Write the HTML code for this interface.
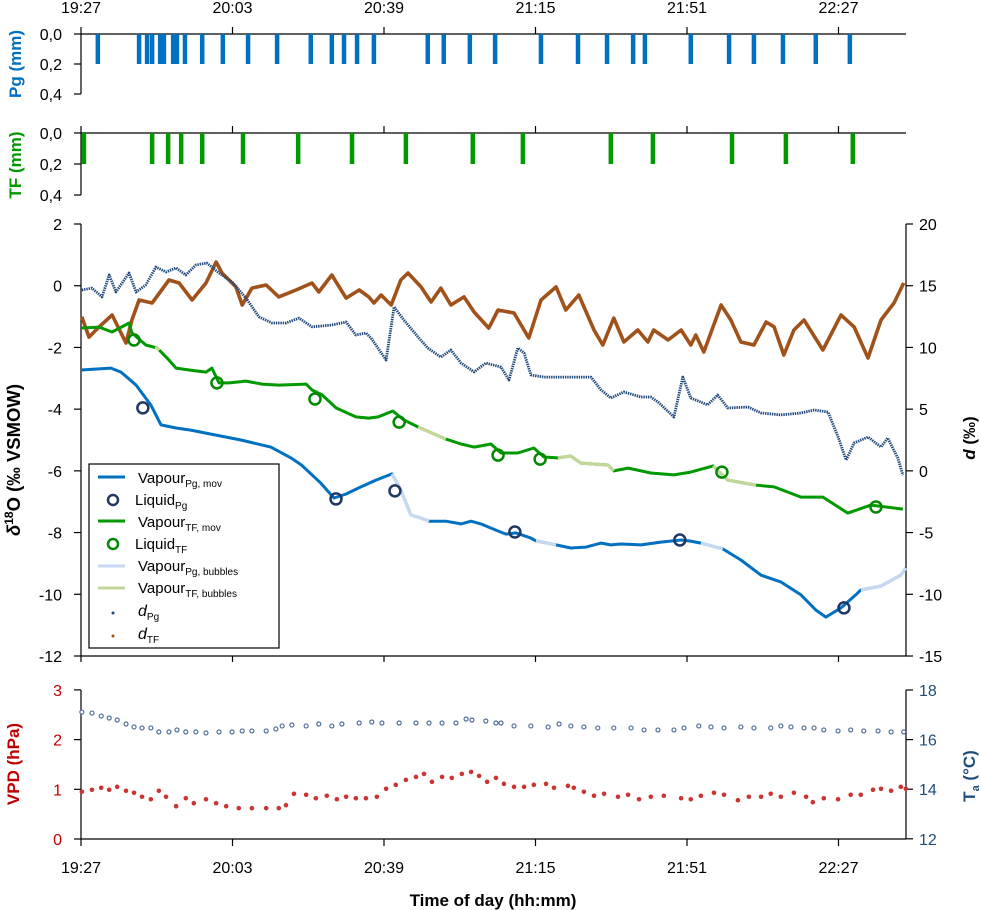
<!DOCTYPE html>
<html><head><meta charset="utf-8">
<style>
html,body{margin:0;padding:0;background:#fff;}
svg{display:block;font-family:"Liberation Sans",Arial,sans-serif;}
</style></head>
<body>
<svg id="chart" width="981" height="910" viewBox="0 0 981 910" xmlns="http://www.w3.org/2000/svg">
  <g id="axes" stroke="#000" stroke-width="1.2" fill="none">
    <line x1="81" y1="34" x2="906" y2="34"/>
    <line x1="81" y1="34" x2="81" y2="94"/>
    <line x1="81" y1="133" x2="906" y2="133"/>
    <line x1="81" y1="133" x2="81" y2="195"/>
    <line x1="81" y1="224" x2="81" y2="656"/>
    <line x1="906" y1="224" x2="906" y2="656"/>
    <line x1="81" y1="656" x2="906" y2="656"/>
    <line x1="81" y1="690" x2="81" y2="839"/>
    <line x1="906" y1="690" x2="906" y2="839"/>
    <line x1="81" y1="839" x2="906" y2="839"/>
  </g>
  <g id="ticks"></g>
  <g id="marks"></g>
  <text transform="translate(21,64) rotate(-90)" text-anchor="middle" font-size="17" font-weight="bold" fill="#0070C0">Pg (mm)</text>
  <text transform="translate(21,165) rotate(-90)" text-anchor="middle" font-size="17" font-weight="bold" fill="#009900">TF (mm)</text>
  <text transform="translate(20,460) rotate(-90)" text-anchor="middle" font-size="18.5" font-weight="bold" fill="#000"><tspan font-style="italic">δ</tspan><tspan font-size="12" dy="-7">18</tspan><tspan dy="7">O (‰ VSMOW)</tspan></text>
  <text transform="translate(975,438) rotate(-90)" text-anchor="middle" font-size="17" font-weight="bold" fill="#000"><tspan font-style="italic">d</tspan> (‰)</text>
  <text transform="translate(19,764) rotate(-90)" text-anchor="middle" font-size="17" font-weight="bold" fill="#C00000">VPD (hPa)</text>
  <text transform="translate(975,776) rotate(-90)" text-anchor="middle" font-size="17" font-weight="bold" fill="#1F4E79">T<tspan font-size="11" dy="4">a</tspan><tspan dy="-4"> (°C)</tspan></text>
  <text x="493" y="906" text-anchor="middle" font-size="17" font-weight="bold" fill="#000">Time of day (hh:mm)</text>
  <g id="legend">
    <rect x="89" y="464" width="190" height="184" fill="#fff" stroke="#000" stroke-width="1.2"/>
    <line x1="98" y1="477" x2="125" y2="477" stroke="#0070C0" stroke-width="3"/>
    <text x="138" y="483" font-size="15">Vapour<tspan font-size="10" dy="4">Pg, mov</tspan></text>
    <circle cx="113" cy="500" r="5" fill="none" stroke="#203864" stroke-width="2.5"/>
    <text x="135" y="505" font-size="15">Liquid<tspan font-size="10" dy="4">Pg</tspan></text>
    <line x1="98" y1="521" x2="125" y2="521" stroke="#009900" stroke-width="3"/>
    <text x="138" y="527" font-size="15">Vapour<tspan font-size="10" dy="4">TF, mov</tspan></text>
    <circle cx="113" cy="544" r="5" fill="none" stroke="#008A00" stroke-width="2.5"/>
    <text x="135" y="549" font-size="15">Liquid<tspan font-size="10" dy="4">TF</tspan></text>
    <line x1="98" y1="566" x2="125" y2="566" stroke="#C5D9F1" stroke-width="3"/>
    <text x="138" y="571" font-size="15">Vapour<tspan font-size="10" dy="4">Pg, bubbles</tspan></text>
    <line x1="98" y1="588" x2="125" y2="588" stroke="#C4D79B" stroke-width="3"/>
    <text x="138" y="593" font-size="15">Vapour<tspan font-size="10" dy="4">TF, bubbles</tspan></text>
    <circle cx="113" cy="613" r="1.5" fill="#1F497D"/>
    <text x="138" y="616" font-size="16" font-style="italic">d<tspan font-size="10" font-style="normal" dy="4">Pg</tspan></text>
    <circle cx="113" cy="636" r="1.5" fill="#A0521A"/>
    <text x="138" y="639" font-size="16" font-style="italic">d<tspan font-size="10" font-style="normal" dy="4">TF</tspan></text>
  </g>
</svg>
<script>
// ---- data (time in minutes after 19:27) ----
const xTickLabels = ["19:27","20:03","20:39","21:15","21:51","22:27"];
const xTickTimes = [0,36,72,108,144,180];
const pgRainTime = [4.0,13.8,15.7,16.9,18.8,19.7,21.9,22.8,24.7,28.8,33.7,39.7,46.6,54.6,59.6,62.5,65.6,69.6,82.4,86.2,92.4,98.4,109.3,118.1,125.0,131.2,134.0,144.9,154.0,159.9,166.8,174.6,182.7];
const pgRainAmt = [0.2,0.2,0.2,0.2,0.2,0.2,0.2,0.2,0.2,0.2,0.2,0.2,0.2,0.2,0.2,0.2,0.2,0.2,0.2,0.2,0.2,0.2,0.2,0.2,0.2,0.2,0.2,0.2,0.2,0.2,0.2,0.2,0.2];
const tfRainTime = [0.7,16.9,20.7,23.8,28.8,38.5,51.6,64.4,77.2,93.1,105.0,125.9,135.9,154.7,167.5,183.4];
const tfRainAmt = [0.2,0.2,0.2,0.2,0.2,0.2,0.2,0.2,0.2,0.2,0.2,0.2,0.2,0.2,0.2,0.2];
const rainTickLabels = ["0,0","0,2","0,4"];
const rainTickValues = [0,0.2,0.4];

const pgVapTime = [0,7.1,9.5,13.1,16.6,19.0,22.6,26.1,30.9,38.0,45.1,49.9,52.3,57.0,60.1,63.0,66.5,70.1,73.9,76.0,78.4,80.8,82.7,86.7,90.3,92.7,95.0,98.6,101.0,103.4,106.9,108.1,112.9,116.4,120.0,123.6,125.9,128.3,133.1,137.8,142.6,144.5,147.3,152.5,156.8,161.6,166.3,171.1,174.6,177.0,180.6,184.1,185.3,190.1,194.8,196];
const pgVapValue = [-2.73,-2.67,-2.80,-3.22,-3.87,-4.51,-4.61,-4.68,-4.81,-5.00,-5.23,-5.58,-5.80,-6.40,-6.88,-6.75,-6.52,-6.30,-6.10,-6.62,-7.43,-7.53,-7.63,-7.63,-7.72,-7.63,-7.72,-7.92,-8.05,-8.01,-8.18,-8.27,-8.40,-8.50,-8.47,-8.34,-8.40,-8.37,-8.40,-8.31,-8.24,-8.27,-8.34,-8.53,-8.89,-9.38,-9.60,-10.02,-10.51,-10.74,-10.44,-10.02,-9.86,-9.73,-9.38,-9.15];
const pgBubbleStart = [73.9,108.1,147.3,185.3];
const pgBubbleEnd = [82.7,112.9,152.5,196];

const tfVapTime = [0.2,4.3,7.4,11.4,12.1,15.4,18.1,20.9,22.6,25.7,29.7,31.1,32.8,35.2,39.2,43.0,47.0,53.5,54.9,57.3,60.6,65.3,68.4,70.6,74.1,76.7,80.1,86.7,90.3,93.4,97.4,99.8,103.8,107.6,110.0,113.3,116.4,118.8,125.2,126.6,130.0,135.4,140.9,144.9,150.2,153.7,160.4,164.7,171.1,176.3,182.2,187.7,195.3];
const tfVapValue = [-1.37,-1.34,-1.50,-1.21,-1.53,-1.92,-2.02,-2.41,-2.67,-2.73,-2.80,-2.67,-3.15,-3.15,-3.09,-3.19,-3.22,-3.19,-3.38,-3.54,-3.96,-4.25,-4.29,-4.25,-4.06,-4.35,-4.58,-4.97,-5.13,-5.23,-5.13,-5.42,-5.42,-5.26,-5.55,-5.58,-5.52,-5.75,-5.81,-6.00,-5.91,-6.07,-6.13,-6.04,-5.84,-6.30,-6.46,-6.52,-6.85,-6.85,-7.37,-7.11,-7.24];
const tfBubbleStart = [17.6,80.1,113.3,150.2];
const tfBubbleEnd = [18.6,86.7,126.6,160.4];

const liqPgTime = [14.7,60.6,74.6,103.1,142.3,181.3];
const liqPgValue = [-3.96,-6.91,-6.65,-7.98,-8.24,-10.44];
const liqTfTime = [12.6,32.3,55.6,75.6,99.1,109.1,152.3,188.9];
const liqTfValue = [-1.76,-3.15,-3.67,-4.42,-5.49,-5.62,-6.04,-7.17];

const dTfTime = [0.2,1.9,4.3,7.4,10.7,12.1,13.8,16.9,20.9,23.3,26.4,29.7,32.1,33.5,36.8,38.3,40.6,44.0,47.0,51.1,54.9,56.5,59.6,63.0,66.1,68.4,69.6,71.3,73.7,76.0,77.7,80.8,83.2,85.5,87.9,91.0,93.4,96.9,99.1,102.9,106.4,109.3,112.9,115.2,118.3,121.9,124.0,126.6,129.0,132.3,134.7,136.1,139.5,142.6,144.9,146.1,148.0,152.1,154.4,156.8,159.9,162.8,164.7,167.0,169.4,171.8,176.3,180.6,183.7,187.0,190.1,193.2,195.5];
const dTfValue = [12.47,10.84,11.66,12.63,10.36,12.22,13.84,13.60,15.46,15.22,13.84,15.22,16.92,16.03,14.90,13.44,14.81,15.06,14.09,14.65,15.22,14.49,15.87,14.00,14.65,14.09,13.60,14.25,13.44,15.46,16.03,14.90,13.68,14.81,13.44,14.09,12.87,11.57,13.03,12.79,10.76,13.84,14.90,13.03,14.25,11.41,10.20,12.38,10.44,11.41,10.44,11.41,10.60,11.41,10.20,11.01,9.63,13.44,12.22,10.44,10.20,12.06,11.66,9.39,11.41,12.22,9.79,12.63,11.66,9.14,12.22,13.60,15.22];

const dPgTime = [0.2,2.6,5.0,6.7,8.3,11.4,13.1,15.4,17.8,20.2,22.6,24.9,27.3,29.9,32.8,35.9,39.2,42.3,45.4,48.7,51.8,54.9,59.6,63.0,65.3,67.7,68.9,72.5,74.4,76.7,80.1,82.4,85.5,87.9,90.3,93.4,96.2,99.8,101.7,103.8,105.3,106.9,110.0,114.0,118.1,121.2,123.6,125.9,129.0,133.1,135.4,137.1,140.9,143.0,144.9,148.9,151.3,153.7,158.5,161.6,166.3,171.1,174.2,177.5,179.9,181.8,183.7,187.0,190.1,191.7,194.1,195.3];
const dPgValue = [14.65,14.81,14.09,15.87,14.49,16.03,14.49,15.06,16.52,16.11,16.44,15.87,16.68,16.84,16.03,15.30,14.00,12.47,11.98,11.98,12.38,11.66,11.82,12.06,11.01,11.17,10.76,8.98,13.28,12.22,10.84,9.95,9.22,9.79,8.74,8.01,8.74,8.41,7.36,9.95,9.55,7.77,7.60,7.60,7.60,7.60,6.55,5.90,6.39,5.98,5.98,5.58,4.36,7.60,5.90,5.34,6.15,5.09,5.17,4.69,4.53,4.69,4.93,4.77,2.74,0.88,2.26,2.74,1.93,2.66,1.04,-0.34];

const leftTickValues = [2,0,-2,-4,-6,-8,-10,-12];
const rightTickValues = [20,15,10,5,0,-5,-10,-15];

const vpdTime = [0.2,2.6,4.8,6.7,8.6,10.7,12.6,14.5,16.6,18.5,20.2,22.6,24.9,26.8,29.7,32.1,34.5,37.5,40.6,44.0,47.0,48.7,50.6,53.5,55.8,58.4,60.8,63.0,65.3,67.7,70.3,72.5,74.8,77.2,79.6,81.5,83.4,85.8,88.1,90.5,92.7,94.6,96.5,98.6,100.5,102.9,105.3,107.6,110.5,112.4,115.7,117.1,119.5,121.9,124.3,127.6,130.0,132.6,135.4,138.5,142.6,144.9,147.3,150.4,152.8,156.1,158.7,161.6,163.9,166.3,169.4,172.3,173.9,176.5,179.9,182.9,185.3,188.2,190.1,192.5,194.8,196.0];
const vpdValue = [0.95,0.99,1.03,0.99,1.05,0.97,0.93,0.85,0.80,0.97,0.85,0.66,0.82,0.72,0.80,0.72,0.66,0.62,0.62,0.62,0.62,0.68,0.91,0.89,0.82,0.87,0.80,0.85,0.82,0.82,0.85,1.01,1.09,1.19,1.25,1.31,1.15,1.25,1.23,1.31,1.35,1.27,1.15,1.23,1.11,1.05,1.05,1.09,1.11,1.03,1.07,1.03,0.95,0.87,0.91,0.85,0.89,0.80,0.85,0.87,0.82,0.80,0.87,0.93,0.89,0.78,0.85,0.85,0.91,0.85,0.93,0.85,0.74,0.82,0.80,0.89,0.89,0.99,1.01,0.97,1.05,1.01];
const taTime = [0.2,2.6,4.8,6.7,8.6,10.7,12.6,14.5,16.6,18.5,20.9,22.8,24.9,27.3,29.7,32.8,35.9,38.3,40.6,44.0,46.3,47.8,50.1,53.5,56.5,59.6,62.0,66.1,69.1,71.5,75.6,79.6,82.7,85.8,89.1,91.5,92.9,96.2,98.6,99.8,102.9,106.9,111.0,113.6,116.4,119.5,122.8,126.6,130.7,133.8,137.1,140.9,143.3,146.8,149.7,152.8,156.8,159.9,163.9,166.3,168.7,171.8,174.2,176.5,179.9,182.9,186.0,189.4,192.5,195.5];
const taValue = [17.11,17.07,16.95,16.87,16.79,16.63,16.51,16.47,16.47,16.31,16.31,16.39,16.31,16.31,16.27,16.31,16.31,16.35,16.35,16.35,16.43,16.55,16.59,16.55,16.63,16.55,16.63,16.67,16.71,16.67,16.67,16.67,16.67,16.67,16.67,16.83,16.79,16.75,16.67,16.67,16.55,16.55,16.51,16.63,16.55,16.51,16.47,16.47,16.47,16.39,16.39,16.39,16.47,16.55,16.51,16.47,16.51,16.47,16.47,16.55,16.51,16.47,16.47,16.39,16.35,16.39,16.35,16.35,16.31,16.31];
const vpdTickValues = [0,1,2,3];
const taTickValues = [12,14,16,18];

// ---- scales ----
const NS = "http://www.w3.org/2000/svg";
function X(t){ return 81 + t*4.2083; }
function Ym(v){ return 224 + (2 - v)*30.857; }
function Yd(v){ return 224 + (20 - v)*12.343; }
function Ypg(v){ return 34 + v*150; }
function Ytf(v){ return 133 + v*155; }
function Yvpd(v){ return 839 - v*49.7; }
function Yta(v){ return 690 + (18 - v)*24.8; }
function mk(tag, attrs, parent){
  const el = document.createElementNS(NS, tag);
  for (const k in attrs) el.setAttribute(k, attrs[k]);
  parent.appendChild(el);
  return el;
}
function pts(ts, vs, yf){ return ts.map((t,i)=>X(t).toFixed(1)+","+yf(vs[i]).toFixed(1)).join(" "); }
function segPts(ts, vs, yf, a, b){
  const out = [];
  for (let i=0;i<ts.length-1;i++){
    const t0=ts[i], t1=ts[i+1];
    if (t1 < a || t0 > b) continue;
    const s=Math.max(t0,a), e=Math.min(t1,b);
    const f=(t)=>vs[i]+(vs[i+1]-vs[i])*(t1===t0?0:(t-t0)/(t1-t0));
    out.push([s,f(s)]); out.push([e,f(e)]);
  }
  return out.map(p=>X(p[0]).toFixed(1)+","+yf(p[1]).toFixed(1)).join(" ");
}

const ticks = document.getElementById("ticks");
const marks = document.getElementById("marks");

xTickTimes.forEach((t,i)=>{
  const x = X(t);
  const a = mk("line",{x1:x,y1:27,x2:x,y2:34,stroke:"#000","stroke-width":1.2},ticks);
  
  
  const b = mk("line",{x1:x,y1:126,x2:x,y2:133,stroke:"#000","stroke-width":1.2},ticks);
  
  
  const c = mk("line",{x1:x,y1:656,x2:x,y2:662,stroke:"#000","stroke-width":1.2},ticks);
  
  
  const d = mk("line",{x1:x,y1:839,x2:x,y2:846,stroke:"#000","stroke-width":1.2},ticks);
  
  
  const l1 = mk("text",{x:x,y:13,"text-anchor":"middle","font-size":16},ticks);
  
  
  l1.textContent = xTickLabels[i];
  const l2 = mk("text",{x:x,y:873,"text-anchor":"middle","font-size":16},ticks);
  
  
  l2.textContent = xTickLabels[i];
});
rainTickValues.forEach((v,i)=>{
  [[Ypg,'pg'],[Ytf,'tf']].forEach(([f,n])=>{
    const y=f(v);
    const t=mk("line",{x1:74,y1:y,x2:81,y2:y,stroke:"#000","stroke-width":1.2},ticks);
    
    
    const l=mk("text",{x:62,y:y+6,"text-anchor":"end","font-size":16},ticks);
    
    
    l.textContent=rainTickLabels[i];
  });
});
leftTickValues.forEach(v=>{
  const y=Ym(v);
  const t=mk("line",{x1:74,y1:y,x2:81,y2:y,stroke:"#000","stroke-width":1.2},ticks);
  
  
  const l=mk("text",{x:62,y:y+6,"text-anchor":"end","font-size":16},ticks);
  
  
  l.textContent=String(v);
});
rightTickValues.forEach(v=>{
  const y=Yd(v);
  const t=mk("line",{x1:906,y1:y,x2:913,y2:y,stroke:"#000","stroke-width":1.2},ticks);
  
  
  const l=mk("text",{x:919,y:y+6,"text-anchor":"start","font-size":16},ticks);
  
  
  l.textContent=String(v);
});
vpdTickValues.forEach(v=>{
  const y=Yvpd(v);
  const t=mk("line",{x1:74,y1:y,x2:81,y2:y,stroke:"#000","stroke-width":1.2},ticks);
  
  
  const l=mk("text",{x:62,y:y+6,"text-anchor":"end","font-size":16,fill:"#C00000"},ticks);
  
  
  l.textContent=String(v);
});
taTickValues.forEach(v=>{
  const y=Yta(v);
  const t=mk("line",{x1:906,y1:y,x2:913,y2:y,stroke:"#000","stroke-width":1.2},ticks);
  
  
  const l=mk("text",{x:919,y:y+6,"text-anchor":"start","font-size":16,fill:"#1F4E79"},ticks);
  
  
  l.textContent=String(v);
});

pgRainTime.forEach((t,i)=>{
  const b=mk("line",{x1:X(t),y1:Ypg(0),x2:X(t),y2:Ypg(pgRainAmt[i]),stroke:"#0070C0","stroke-width":4.5},marks);
  
  
});
tfRainTime.forEach((t,i)=>{
  const b=mk("line",{x1:X(t),y1:Ytf(0),x2:X(t),y2:Ytf(tfRainAmt[i]),stroke:"#009900","stroke-width":4.5},marks);
  
  
});

const dTfLine = mk("polyline",{points:pts(dTfTime,dTfValue,Yd),fill:"none",stroke:"#A0521A","stroke-width":3.6,"stroke-linejoin":"round"},marks);


const dPgLine = mk("polyline",{points:pts(dPgTime,dPgValue,Yd),fill:"none",stroke:"#1F497D","stroke-width":2.8,"stroke-dasharray":"1.4 0.9","stroke-linejoin":"round"},marks);



const tfLine = mk("polyline",{points:pts(tfVapTime,tfVapValue,Ym),fill:"none",stroke:"#009900","stroke-width":3,"stroke-linejoin":"round"},marks);


tfBubbleStart.forEach((a,i)=>{
  const s=mk("polyline",{points:segPts(tfVapTime,tfVapValue,Ym,a,tfBubbleEnd[i]),fill:"none",stroke:"#C4D79B","stroke-width":3.2},marks);
  
  
});
const pgLine = mk("polyline",{points:pts(pgVapTime,pgVapValue,Ym),fill:"none",stroke:"#0070C0","stroke-width":3,"stroke-linejoin":"round"},marks);


pgBubbleStart.forEach((a,i)=>{
  const s=mk("polyline",{points:segPts(pgVapTime,pgVapValue,Ym,a,pgBubbleEnd[i]),fill:"none",stroke:"#C5D9F1","stroke-width":3.2},marks);
  
  
});

liqPgTime.forEach((t,i)=>{
  const c=mk("circle",{cx:X(t),cy:Ym(liqPgValue[i]),r:5.5,fill:"none",stroke:"#203864","stroke-width":2.5},marks);
  
  
});
liqTfTime.forEach((t,i)=>{
  const c=mk("circle",{cx:X(t),cy:Ym(liqTfValue[i]),r:5.5,fill:"none",stroke:"#008A00","stroke-width":2.5},marks);
  
  
});

taTime.forEach((t,i)=>{
  const c=mk("circle",{cx:X(t),cy:Yta(taValue[i]),r:2,fill:"#fff",stroke:"#4F6D9A","stroke-width":1.2},marks);
  
  
});
vpdTime.forEach((t,i)=>{
  const c=mk("circle",{cx:X(t),cy:Yvpd(vpdValue[i]),r:2.3,fill:"#CC3333"},marks);
  
  
});
document.getElementById("chart").appendChild(document.getElementById("legend"));
</script>
</body></html>
